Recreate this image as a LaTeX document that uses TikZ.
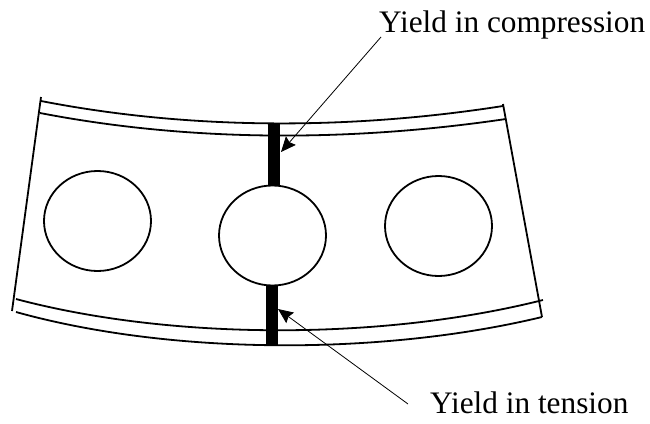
\documentclass[tikz,border=0pt]{standalone}
\usepackage{fontspec}
\setmainfont{Liberation Serif}
\usetikzlibrary{arrows.meta,positioning,shapes.geometric}
\begin{document}
\begin{tikzpicture}[x=1pt,y=-1pt,
        every node/.style={font=\fontsize{31.3}{36}\selectfont,inner sep=0pt},
        edgeline/.style={line width=1.8pt},
        hole/.style={ellipse,draw,line width=1.8pt,minimum width=107pt,minimum height=100pt},
        leader/.style={line width=0.8pt,-{Stealth[length=15pt,width=13pt,inset=2pt]}}]
        \useasboundingbox (0,0) rectangle (650,423);
        % flanges
        \draw[edgeline] (41,101) .. controls (190,130) and (350,130) .. (503,106);
        \draw[edgeline] (40,113) .. controls (190,142) and (350,142) .. (506,119);
        \draw[edgeline] (16,299) .. controls (170,340) and (380,341) .. (543,300);
        \draw[edgeline] (16,312) .. controls (170,355) and (380,356) .. (542,317);
        % webs
        \draw[edgeline] (41,97) -- (12,311);
        \draw[edgeline] (503,104) -- (542,317);
        % holes
        \node[hole] (holeL) at (97.5,221) {};
        \node[hole] (holeM) at (272.5,235.5) {};
        \node[hole] (holeR) at (438.5,226) {};
        % yield zones
        \fill (268,123) rectangle (280,186);
        \fill (266,285) rectangle (278,345);
        \coordinate (tipC) at (281,152);
        \coordinate (tipT) at (278,309);
        % labels
        \node[anchor=base west] (labC) at (379,32.5) {Yield in compression};
        \node[anchor=base west] (labT) at (430,413) {Yield in tension};
        \draw[leader] (381,37) -- (tipC);
        \draw[leader] (408,404) -- (tipT);
      \end{tikzpicture}
\end{document}
